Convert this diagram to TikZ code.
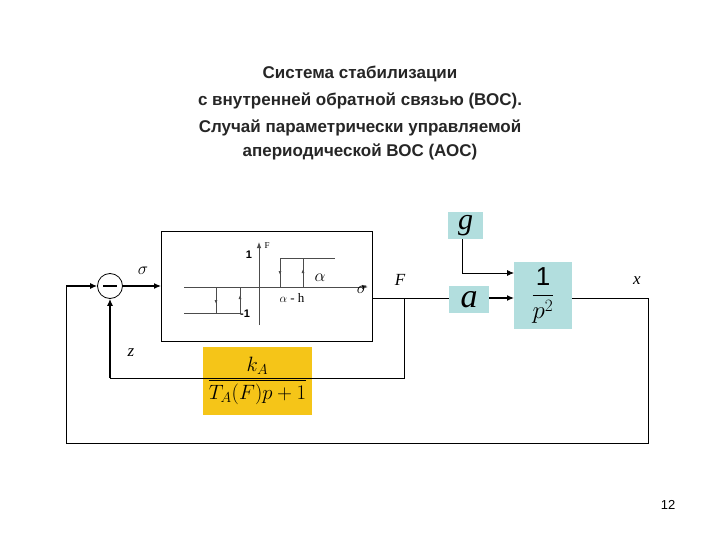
\documentclass[tikz,border=0pt]{standalone}
\usepackage{fontspec}
\setmainfont{Liberation Sans}
\newfontfamily\serifm{Liberation Serif}
\usetikzlibrary{arrows.meta}
\definecolor{tcol}{HTML}{B2DEDE}
\definecolor{ycol}{HTML}{F5C518}
\begin{document}
\begin{tikzpicture}[x=1pt,y=-1pt,
  ln/.style={line width=1.2pt},
  arr/.style={ln,-{Latex[length=7pt,width=6pt]}},
  tf/.style={fill=tcol,draw=none,inner sep=0pt},
  lab/.style={font=\serifm\itshape\fontsize{17}{20}\selectfont}]
\useasboundingbox (0,0) rectangle (720,540);
\fill[white] (0,0) rectangle (720,540);
\node[font=\bfseries\fontsize{17}{20}\selectfont,align=center,text=black!85] (t) at (360,113) {Система стабилизации\\[7pt] с внутренней обратной связью (ВОС).\\[7pt] Случай параметрически управляемой\\[4pt] апериодической ВОС (АОС)};
\node[draw,circle,minimum size=25pt,inner sep=0pt,line width=0.8pt] (s) at (110,286) {};
\draw[ln] (103,286)--(117,286);
\node[draw,line width=0.8pt,minimum width=211pt,minimum height=110pt] (nl) at (266.5,286) {};
\node[tf,minimum width=40pt,minimum height=27pt] (a) at (469,299.5) {\serifm\itshape\fontsize{34}{34}\selectfont a};
\node[tf,minimum width=35pt,minimum height=27pt] (g) at (465.5,225.5) {\serifm\itshape\fontsize{30}{30}\selectfont g};
\node[tf,minimum width=58pt,minimum height=67pt] (p) at (543,295.5) {\fontsize{26}{30}\selectfont$\displaystyle\frac{\mathrm{1}}{p^2}$};
\node[fill=ycol,minimum width=109pt,minimum height=68pt,inner sep=0pt] (k) at (257.5,381) {\fontsize{22}{26}\selectfont$\displaystyle\frac{k_A}{T_A(F)p+1}$};
\coordinate (in) at (66,286);
\coordinate (j) at (404,298);
\coordinate (o) at (648,298);
\draw[arr] (in)--(s.west);
\draw[arr] (s.east)--(161,286);
\draw[line width=0.8pt] (372,298)--(449,298);
\draw[arr] (489,298)--(514,298);
\draw[line width=0.8pt,-{Latex[length=7pt,width=6pt]}] (462,239)--(462,273)--(514,273);
\draw[line width=0.8pt] (j)--(404,378)--(110,378);
\draw[arr] (110,378)--(s.south);
\draw[line width=0.8pt] (572,298)--(o)--(648,443)--(66,443)--(in);
\node[lab] (sg) at (143,271) {$\sigma$};
\node[lab] (F) at (400,280) {F};
\node[lab] (x) at (637,281) {x};
\node[lab] (z) at (131,353) {z};
\node[font=\fontsize{13}{15}\selectfont] (pg) at (668,505) {12};
% hysteresis
\begin{scope}[line width=0.9pt,black!70]
\draw[-{Latex[length=6pt]}] (184,287)--(368,287);
\draw[-{Latex[length=6pt]}] (259,325)--(259,242);
\draw (184,313)--(240,313)--(240,287);
\draw (216,287)--(216,313);
\draw (280,287)--(280,258)--(335,258);
\draw (303,258)--(303,287);
\draw[-{Latex[length=4pt]}] (216,293)--(216,304);
\draw[-{Latex[length=4pt]}] (240,306)--(240,295);
\draw[-{Latex[length=4pt]}] (280,264)--(280,275);
\draw[-{Latex[length=4pt]}] (303,280)--(303,269);
\end{scope}
\node[font=\bfseries\fontsize{11}{12}\selectfont] (one) at (249,255) {1};
\node[font=\serifm\fontsize{9}{10}\selectfont] (Fa) at (267,246) {F};
\node[font=\bfseries\fontsize{11}{12}\selectfont] (m1) at (245,314) {-1};
\node[font=\fontsize{16}{16}\selectfont] (al) at (320,278) {$\alpha$};
\node[font=\serifm\fontsize{13}{14}\selectfont] (alh) at (292,298) {$\alpha$ - h};
\node[font=\fontsize{18}{18}\selectfont] (sg2) at (362,290) {$\sigma$};
\end{tikzpicture}
\end{document}
